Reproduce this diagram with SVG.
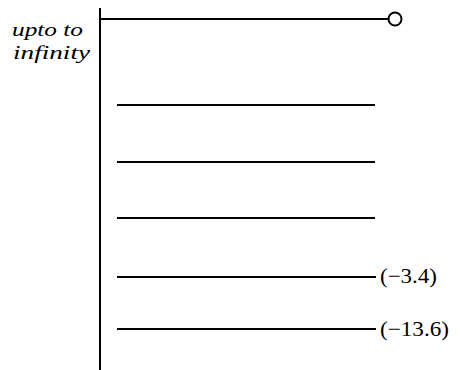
<svg xmlns="http://www.w3.org/2000/svg" width="462" height="370" viewBox="0 0 462 370">
<style>
.ln{stroke:#000;stroke-width:2;fill:none}
.t{font-family:"Liberation Serif","DejaVu Serif",serif;font-size:21px;fill:#000}
.i{font-style:italic;font-size:19px}
</style>
<rect width="462" height="370" fill="#fff"/>
<g id="axis">
<line class="ln" x1="100" y1="8" x2="100" y2="370"/>
<text class="t i" x="12" y="36" textLength="71" lengthAdjust="spacingAndGlyphs">upto to</text>
<text class="t i" x="13" y="59" textLength="77" lengthAdjust="spacingAndGlyphs">infinity</text>
</g>
<g id="connectors">
<line class="ln" x1="100" y1="19" x2="389" y2="19"/>
<line class="ln" x1="117" y1="105" x2="375" y2="105"/>
<line class="ln" x1="117" y1="162" x2="375" y2="162"/>
<line class="ln" x1="117" y1="218" x2="375" y2="218"/>
<line class="ln" x1="117" y1="277" x2="376" y2="277"/>
<line class="ln" x1="117" y1="329" x2="376" y2="329"/>
</g>
<g id="open-end">
<circle class="ln" cx="395" cy="19" r="6.5"/>
</g>
<g id="label-3.4">
<text class="t" x="380" y="283" textLength="57" lengthAdjust="spacingAndGlyphs">(−3.4)</text>
</g>
<g id="label-13.6">
<text class="t" x="380" y="336" textLength="69" lengthAdjust="spacingAndGlyphs">(−13.6)</text>
</g>
</svg>
